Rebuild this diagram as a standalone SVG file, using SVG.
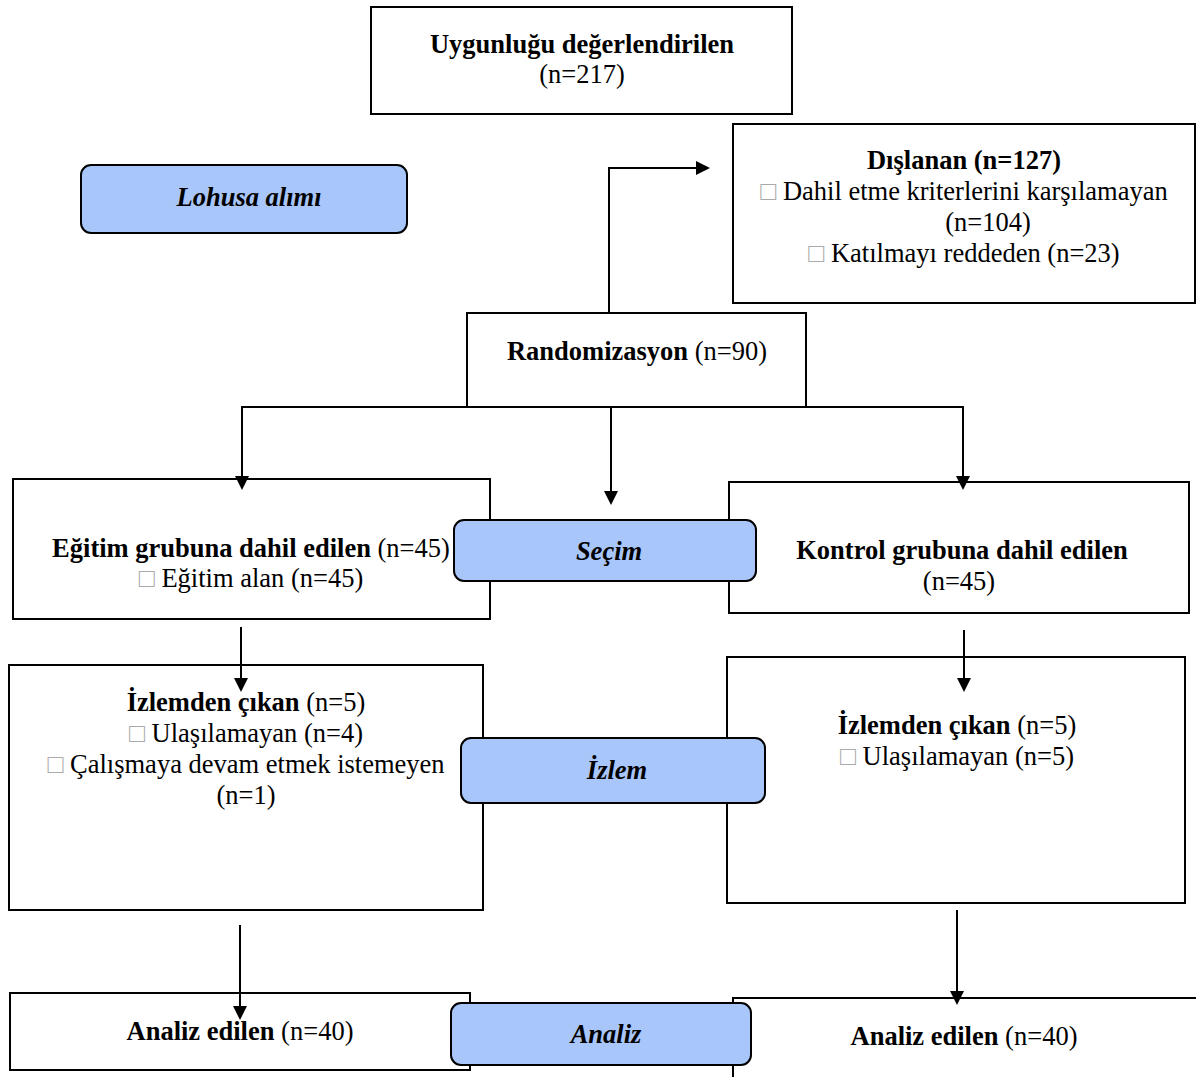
<svg xmlns="http://www.w3.org/2000/svg" width="1196" height="1077" viewBox="0 0 1196 1077">
<style>
.box{fill:#fff;stroke:#000;stroke-width:2}
.lbl{fill:#a9c6fa;stroke:#000;stroke-width:2}
.t{font-family:"Liberation Serif","Times New Roman",serif;font-size:26.5px;fill:#000;text-anchor:middle}
.b{font-weight:bold}
.bi{font-weight:bold;font-style:italic}
.sq{fill:#aaa}
.c{fill:none;stroke:#000;stroke-width:2}
.h{fill:#000}
</style>
<g id="n-uygun">
<rect class="box" x="371" y="7" width="421" height="107"/>
<text class="t b" x="582" y="53">Uygunluğu değerlendirilen</text>
<text class="t" x="582" y="83">(n=217)</text>
</g>
<g id="n-dislanan">
<rect class="box" x="733" y="124" width="462" height="179"/>
<text class="t b" x="964" y="169">Dışlanan (n=127)</text>
<text class="t" x="964" y="200"><tspan class="sq">□</tspan> Dahil etme kriterlerini karşılamayan</text>
<text class="t" x="988" y="231">(n=104)</text>
<text class="t" x="964" y="262"><tspan class="sq">□</tspan> Katılmayı reddeden (n=23)</text>
</g>
<g id="n-random">
<rect class="box" x="467" y="313" width="339" height="94"/>
<text class="t" x="637" y="360"><tspan class="b">Randomizasyon</tspan> (n=90)</text>
</g>
<g id="n-egitim">
<rect class="box" x="13" y="479" width="477" height="140"/>
<text class="t" x="251" y="557"><tspan class="b">Eğitim grubuna dahil edilen</tspan> (n=45)</text>
<text class="t" x="251" y="587"><tspan class="sq">□</tspan> Eğitim alan (n=45)</text>
</g>
<g id="n-kontrol">
<rect class="box" x="729" y="482" width="460" height="131"/>
<text class="t b" x="962" y="559">Kontrol grubuna dahil edilen</text>
<text class="t" x="959" y="590">(n=45)</text>
</g>
<g id="n-izlem-l">
<rect class="box" x="9" y="665" width="474" height="245"/>
<text class="t" x="246" y="711"><tspan class="b">İzlemden çıkan</tspan> (n=5)</text>
<text class="t" x="246" y="742"><tspan class="sq">□</tspan> Ulaşılamayan (n=4)</text>
<text class="t" x="246" y="773"><tspan class="sq">□</tspan> Çalışmaya devam etmek istemeyen</text>
<text class="t" x="246" y="804">(n=1)</text>
</g>
<g id="n-izlem-r">
<rect class="box" x="727" y="657" width="458" height="246"/>
<text class="t" x="957" y="734"><tspan class="b">İzlemden çıkan</tspan> (n=5)</text>
<text class="t" x="957" y="765"><tspan class="sq">□</tspan> Ulaşılamayan (n=5)</text>
</g>
<g id="n-analiz-l">
<rect class="box" x="10" y="993" width="460" height="77"/>
<text class="t" x="240" y="1040"><tspan class="b">Analiz edilen</tspan> (n=40)</text>
</g>
<g id="n-analiz-r">
<rect class="box" x="733" y="998" width="470" height="90"/>
<text class="t" x="964" y="1045"><tspan class="b">Analiz edilen</tspan> (n=40)</text>
</g>
<g id="connectors">
<polyline class="c" points="609,312 609,168 696,168"/>
<path class="h" d="M696,161 L710,168 L696,175 z"/>
<polyline class="c" points="242,478 242,407 963,407 963,478"/>
<path class="h" d="M235,476 L242,490 L249,476 z"/>
<path class="h" d="M956,476 L963,490 L970,476 z"/>
<line class="c" x1="611" y1="407" x2="611" y2="492"/>
<path class="h" d="M604,491 L611,505 L618,491 z"/>
<line class="c" x1="241" y1="627" x2="241" y2="680"/>
<path class="h" d="M234,678 L241,692 L248,678 z"/>
<line class="c" x1="964" y1="630" x2="964" y2="680"/>
<path class="h" d="M957,678 L964,692 L971,678 z"/>
<line class="c" x1="240" y1="925" x2="240" y2="1008"/>
<path class="h" d="M233,1006 L240,1020 L247,1006 z"/>
<line class="c" x1="957" y1="910" x2="957" y2="993"/>
<path class="h" d="M950,991 L957,1005 L964,991 z"/>
</g>
<g id="n-lohusa">
<rect class="lbl" x="81" y="165" width="326" height="68" rx="10"/>
<text class="t bi" x="249" y="206">Lohusa alımı</text>
</g>
<g id="n-secim">
<rect class="lbl" x="454" y="520" width="302" height="61" rx="10"/>
<text class="t bi" x="609" y="560">Seçim</text>
</g>
<g id="n-izlem">
<rect class="lbl" x="461" y="738" width="304" height="65" rx="10"/>
<text class="t bi" x="617" y="779">İzlem</text>
</g>
<g id="n-analiz">
<rect class="lbl" x="451" y="1003" width="300" height="62" rx="10"/>
<text class="t bi" x="606" y="1043">Analiz</text>
</g>
</svg>
